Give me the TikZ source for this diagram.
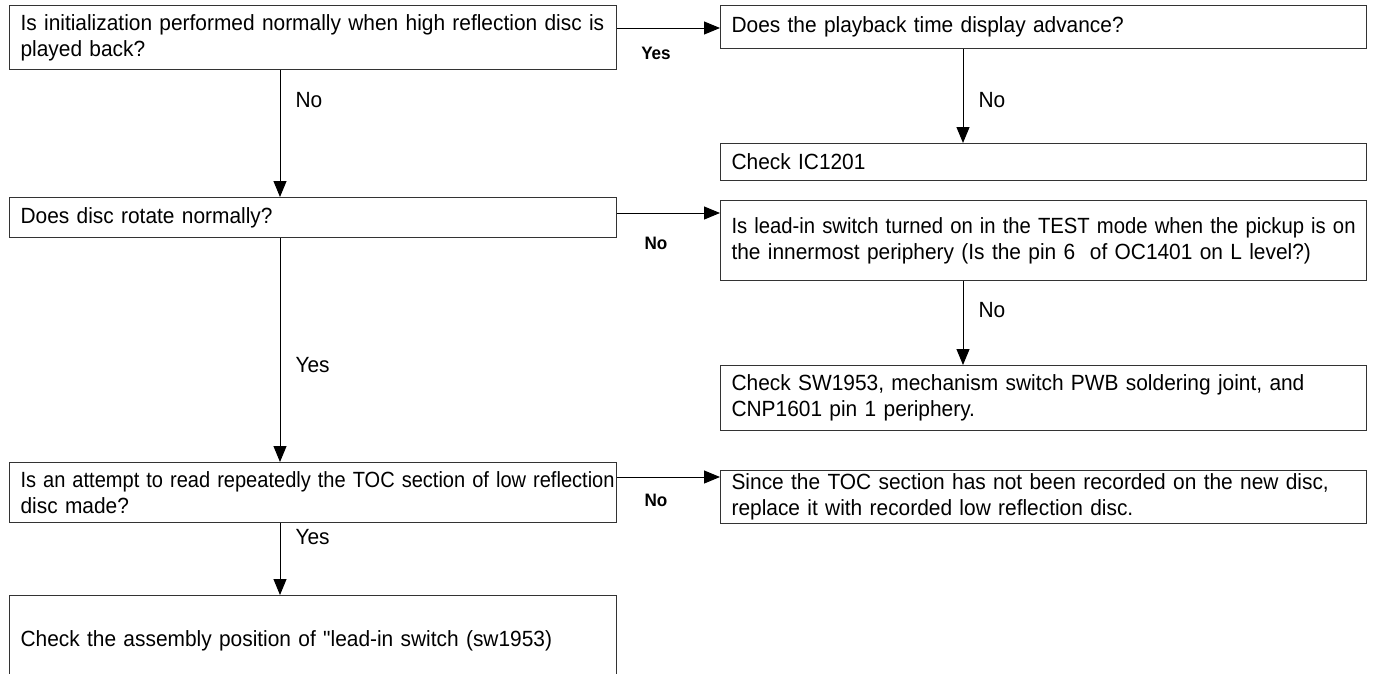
\documentclass[tikz,border=0pt]{standalone}
\usepackage{fontspec}
\usepackage{graphicx}
\setmainfont{Liberation Sans}[FakeStretch=0.95]
\usetikzlibrary{arrows.meta,calc}
\begin{document}
\begin{tikzpicture}[x=1pt,y=-1pt,
  box/.style={draw=black!80, line width=1.1pt, anchor=north west, inner xsep=11pt, inner ysep=0pt,
    align=left, font=\fontsize{22}{26}\selectfont},
  lbox/.style={box, text width=585pt},
  rbox/.style={box, text width=624pt},
  arr/.style={line width=1pt, -{Triangle[width=13pt,length=16pt]}},
  lbl/.style={anchor=west, font=\fontsize{22}{26}\selectfont},
  blbl/.style={font=\bfseries\fontsize{18}{22}\selectfont}]
\clip (0,0) rectangle (1376,673);
\fill[white] (0,0) rectangle (1376,673);
\coordinate (cL) at (280,0);
\coordinate (cR) at (963,0);
% left column
\node[lbox, minimum height=64pt] (b1) at (9,5) {Is initialization performed normally when high reflection disc is\\played back?};
\node[lbox, minimum height=40pt] (b4) at (9,197) {Does disc rotate normally?};
\node[lbox, minimum height=60pt] (b7) at (9,462) {\makebox[\linewidth][l]{\resizebox{594pt}{\height}{Is an attempt to read repeatedly the TOC section of low reflection}}\\disc made?};
\node[lbox, minimum height=90pt] (b8) at (9,595) {\addfontfeatures{Ligatures=TeXOff}\makebox[540pt][s]{Check the assembly position of "lead-in switch (sw1953)}};
% right column
\node[rbox, minimum height=43pt] (b2) at (720,5) {Does the playback time display advance?};
\node[rbox, minimum height=37pt] (b3) at (720,143) {Check IC1201};
\node[rbox, minimum height=80pt] (b5) at (720,200) {\resizebox{\linewidth}{\height}{Is lead-in switch turned on in the TEST mode when the pickup is on}\\\makebox[\linewidth][s]{the innermost periphery (Is the pin 6~~of OC1401 on L level?)}};
\node[rbox, minimum height=65pt] (b6) at (720,365) {\makebox[\linewidth][s]{Check SW1953, mechanism switch PWB soldering joint, and}\\CNP1601 pin 1 periphery.};
\node[rbox, minimum height=53pt] (b9) at (720,470) {\makebox[\linewidth][s]{Since the TOC section has not been recorded on the new disc,}\\replace it with recorded low reflection disc.};
% vertical connectors
\draw[arr] (b1.south -| cL) -- (b4.north -| cL);
\draw[arr] (b4.south -| cL) -- (b7.north -| cL);
\draw[arr] (b7.south -| cL) -- (b8.north -| cL);
\draw[arr] (b2.south -| cR) -- (b3.north -| cR);
\draw[arr] (b5.south -| cR) -- (b6.north -| cR);
% horizontal connectors
\coordinate (h1) at ($(b1.north east)+(0,23)$);
\coordinate (h2) at ($(b4.north east)+(0,16)$);
\coordinate (h3) at ($(b7.north east)+(0,15)$);
\draw[arr] (h1) -- (b2.west |- h1);
\draw[arr] (h2) -- (b5.west |- h2);
\draw[arr] (h3) -- (b9.west |- h3);
% labels
\node[lbl] (n1) at (292,100) {No};
\node[lbl] (n2) at (292,365) {Yes};
\node[lbl] (n3) at (292,537) {Yes};
\node[lbl] (n4) at (975,100) {No};
\node[lbl] (n5) at (975,310) {No};
\node[blbl] (y1) at (656,53) {Yes};
\node[blbl] (y2) at (656,243) {No};
\node[blbl] (y3) at (656,500) {No};
\end{tikzpicture}
\end{document}
